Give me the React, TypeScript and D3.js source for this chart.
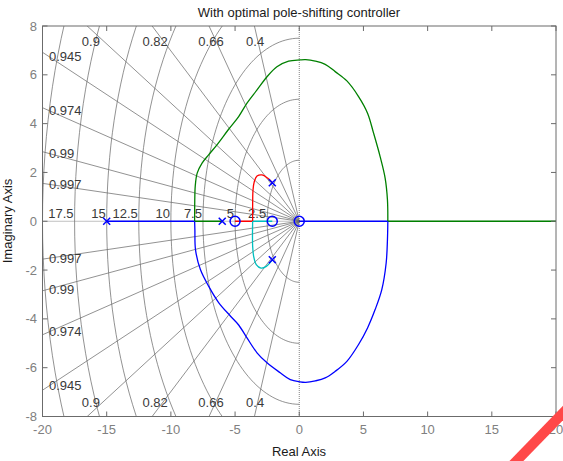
import React from "react";
import * as d3 from "d3";

// ---------- data ----------
const titleText = "With optimal pole-shifting controller";
const xLabelText = "Real Axis";
const yLabelText = "Imaginary Axis";

const xTicks = [-20, -15, -10, -5, 0, 5, 10, 15, 20];
const yTicks = [-8, -6, -4, -2, 0, 2, 4, 6, 8];

const zetaValues = [0.4, 0.66, 0.82, 0.9, 0.945, 0.974, 0.99, 0.997];
const wnValues = [2.5, 5, 7.5, 10, 12.5, 15, 17.5, 20];
const wnLabels = ["2.5", "5", "7.5", "10", "12.5", "15", "17.5", ""];

const polesRe = [-15, -6, -2.1, -2.1];
const polesIm = [0, 0, 1.58, -1.58];
const zerosRe = [-5, -2.1, 0];
const zerosIm = [0, 0, 0];

// upper complex loop (green branch): breakaway -> break-in
const greenLoopRe = [-8.15, -8.14, -8.1, -7.95, -7.57, -7.06, -6.41, -5.5, -4.72, -4.07, -3.29, -2.51, -1.74, -0.83, 0.05, 0.5, 1.25, 2.02, 2.8, 3.71, 4.62, 5.32, 5.79, 6.3, 6.69, 6.87, 6.9];
const greenLoopIm = [0, 0.8, 1.45, 1.97, 2.38, 2.72, 3.13, 3.77, 4.29, 4.84, 5.38, 5.92, 6.33, 6.56, 6.61, 6.62, 6.56, 6.43, 6.13, 5.75, 5.11, 4.43, 3.61, 2.65, 1.77, 0.88, 0];

// lower complex loop (blue branch)
const blueLoopRe = [-8.15, -8.13, -8.08, -7.7, -7.05, -6.28, -5.37, -4.72, -4.07, -3.29, -2.51, -1.48, -0.7, 0.05, 0.5, 1.25, 2.02, 2.8, 3.71, 4.62, 5.32, 5.91, 6.43, 6.77, 6.87, 6.9];
const blueLoopIm = [0, -0.35, -1.17, -1.98, -2.67, -3.33, -3.88, -4.25, -4.78, -5.39, -5.8, -6.21, -6.49, -6.58, -6.6, -6.54, -6.42, -6.15, -5.74, -5.05, -4.37, -3.62, -2.8, -1.71, -0.76, 0];

// red branch: upper pole -> breakaway on real axis
const redLoopRe = [-2.1, -2.47, -2.9, -3.29, -3.5, -3.6, -3.63, -3.63];
const redLoopIm = [1.58, 1.77, 1.9, 1.85, 1.63, 1.29, 0.6, 0];

// cyan branch: lower pole -> breakaway on real axis
const cyanLoopRe = [-2.1, -2.57, -2.98, -3.35, -3.55, -3.63, -3.63];
const cyanLoopIm = [-1.58, -1.85, -1.92, -1.78, -1.44, -1.03, 0];

// real-axis segments of the locus
const realSegFrom = [-15, -8.15, 6.9, 6.9, -3.63, -3.63];
const realSegTo = [-8.15, -6, 0, 21, -5, -2.1];
const realSegBranch = ["blue", "green", "blue", "green", "red", "cyan"];

// ---------- styles ----------
const W = 563;
const H = 461;
const colors: Record<string, string> = {
  blue: "#0000ff",
  green: "#008000",
  red: "#ff0000",
  cyan: "#00bfbf",
};
const FONT = "'Liberation Sans', Arial, Helvetica, sans-serif";

export default function App() {
  const x = d3.scaleLinear().domain([-20, 20]).range([42.5, 556]);
  const y = d3.scaleLinear().domain([-8, 8]).range([416.5, 26]);

  const smooth = d3
    .line<[number, number]>()
    .x((d) => x(d[0]))
    .y((d) => y(d[1]))
    .curve(d3.curveCatmullRom.alpha(0.5));
  const straight = d3
    .line<[number, number]>()
    .x((d) => x(d[0]))
    .y((d) => y(d[1]));

  const zip = (re: number[], im: number[]) =>
    re.map((r, i) => [r, im[i]] as [number, number]);

  // natural-frequency arcs
  const arcPath = (wn: number) => {
    const pts: [number, number][] = d3
      .range(0, 181, 2)
      .map((deg) => {
        const a = ((90 + deg) * Math.PI) / 180;
        return [wn * Math.cos(a), wn * Math.sin(a)] as [number, number];
      });
    return straight(pts) as string;
  };

  const [x0, x1] = x.range();
  const [yb, yt] = y.range();

  const zetaLabels: { text: string; x: number; y: number; anchor: string }[] = [];
  zetaValues.forEach((z) => {
    const th = Math.acos(z);
    const t = Math.tan(th);
    const yAtLeft = 20 * t;
    if (yAtLeft < 8) {
      const xd = x.invert(49);
      const yd = -xd * t;
      zetaLabels.push({ text: String(z), x: 49, y: y(yd), anchor: "start" });
      zetaLabels.push({ text: String(z), x: 49, y: y(-yd), anchor: "start" });
    } else {
      const xc = x(-8 / t) + 4.5 * z * z;
      zetaLabels.push({ text: String(z), x: xc, y: 41, anchor: "middle" });
      zetaLabels.push({ text: String(z), x: xc, y: 402.5, anchor: "middle" });
    }
  });

  const gridColor = "#6e6e6e";
  const boxColor = "#6b6b6b";
  const tickLabelColor = "#808080";
  const gridLabelColor = "#3a3a3a";

  return (
    <div style={{ position: "fixed", left: 0, top: 0, width: W, height: H, background: "#fff" }}>
      <svg width={W} height={H} viewBox={`0 0 ${W} ${H}`} style={{ display: "block", fontFamily: FONT }}>
        <defs>
          <clipPath id="plotClip">
            <rect x={x0} y={yt} width={x1 - x0} height={yb - yt} />
          </clipPath>
        </defs>
        <rect x={0} y={0} width={W} height={H} fill="#fff" />

        {/* grid */}
        <g clipPath="url(#plotClip)" fill="none" stroke={gridColor} strokeWidth={0.75}>
          {wnValues.map((wn) => (
            <path key={"wn" + wn} d={arcPath(wn)} />
          ))}
          {zetaValues.map((z) => {
            const th = Math.acos(z);
            const R = 60;
            return (
              <g key={"z" + z}>
                <line x1={x(0)} y1={y(0)} x2={x(-R * Math.cos(th))} y2={y(R * Math.sin(th))} />
                <line x1={x(0)} y1={y(0)} x2={x(-R * Math.cos(th))} y2={y(-R * Math.sin(th))} />
              </g>
            );
          })}
          <line x1={x(0)} y1={yt} x2={x(0)} y2={yb} strokeDasharray="1 1" stroke="#555" />
          <line x1={x0} y1={y(0)} x2={x1} y2={y(0)} strokeDasharray="1 1" stroke="#555" />
        </g>

        {/* grid labels */}
        <g fontSize={13} fill={gridLabelColor}>
          {zetaLabels.map((l, i) => (
            <text key={"zl" + i} x={l.x} y={l.y} textAnchor={l.anchor} dominantBaseline="central">
              {l.text}
            </text>
          ))}
          {wnValues.map((wn, i) =>
            wnLabels[i] && x(-wn) - 1 > x0 + 20 ? (
              <text key={"wl" + wn} x={x(-wn) - 1} y={218} textAnchor="end">
                {wnLabels[i]}
              </text>
            ) : null
          )}
        </g>

        {/* locus */}
        <g clipPath="url(#plotClip)" fill="none" strokeWidth={1.3}>
          {realSegFrom.map((f, i) => (
            <path
              key={"rs" + i}
              d={straight([[f, 0], [realSegTo[i], 0]]) as string}
              stroke={colors[realSegBranch[i]]}
            />
          ))}
          <path d={smooth(zip(greenLoopRe, greenLoopIm)) as string} stroke={colors.green} />
          <path d={smooth(zip(blueLoopRe, blueLoopIm)) as string} stroke={colors.blue} />
          <path d={smooth(zip(redLoopRe, redLoopIm)) as string} stroke={colors.red} />
          <path d={smooth(zip(cyanLoopRe, cyanLoopIm)) as string} stroke={colors.cyan} />
        </g>

        {/* poles and zeros */}
        <g stroke={colors.blue} strokeWidth={1.5} fill="none">
          {polesRe.map((r, i) => {
            const cx = x(r);
            const cy = y(polesIm[i]);
            const s = 3.5;
            return (
              <path key={"p" + i} d={`M${cx - s},${cy - s}L${cx + s},${cy + s}M${cx - s},${cy + s}L${cx + s},${cy - s}`} />
            );
          })}
          {zerosRe.map((r, i) => (
            <circle key={"zr" + i} cx={x(r)} cy={y(zerosIm[i])} r={5} />
          ))}
        </g>

        {/* axes box and ticks */}
        <g stroke={boxColor} strokeWidth={1} fill="none">
          <rect x={x0} y={yt} width={x1 - x0} height={yb - yt} />
          {xTicks.map((t) => (
            <g key={"xt" + t}>
              <line x1={x(t)} x2={x(t)} y1={yb} y2={yb - 5} />
              <line x1={x(t)} x2={x(t)} y1={yt} y2={yt + 5} />
            </g>
          ))}
          {yTicks.map((t) => (
            <g key={"yt" + t}>
              <line x1={x0} x2={x0 + 5} y1={y(t)} y2={y(t)} />
              <line x1={x1} x2={x1 - 5} y1={y(t)} y2={y(t)} />
            </g>
          ))}
        </g>
        <g fontSize={13} fill={tickLabelColor}>
          {xTicks.map((t) => (
            <text key={"xl" + t} x={x(t)} y={434} textAnchor="middle">
              {t}
            </text>
          ))}
          {yTicks.map((t) => (
            <text key={"yl" + t} x={37} y={y(t) + 4.5} textAnchor="end">
              {t}
            </text>
          ))}
        </g>

        {/* titles */}
        <text x={299} y={17} textAnchor="middle" fontSize={13} fill="#1a1a1a">
          {titleText}
        </text>
        <text x={299} y={456} textAnchor="middle" fontSize={13} fill="#1a1a1a">
          {xLabelText}
        </text>
        <text transform={`translate(12,221) rotate(-90)`} textAnchor="middle" fontSize={13} fill="#1a1a1a">
          {yLabelText}
        </text>

        {/* red corner stripe */}
        <line x1={497} y1={481} x2={583} y2={392.4} stroke="#ff4848" strokeWidth={10} />
      </svg>
    </div>
  );
}
